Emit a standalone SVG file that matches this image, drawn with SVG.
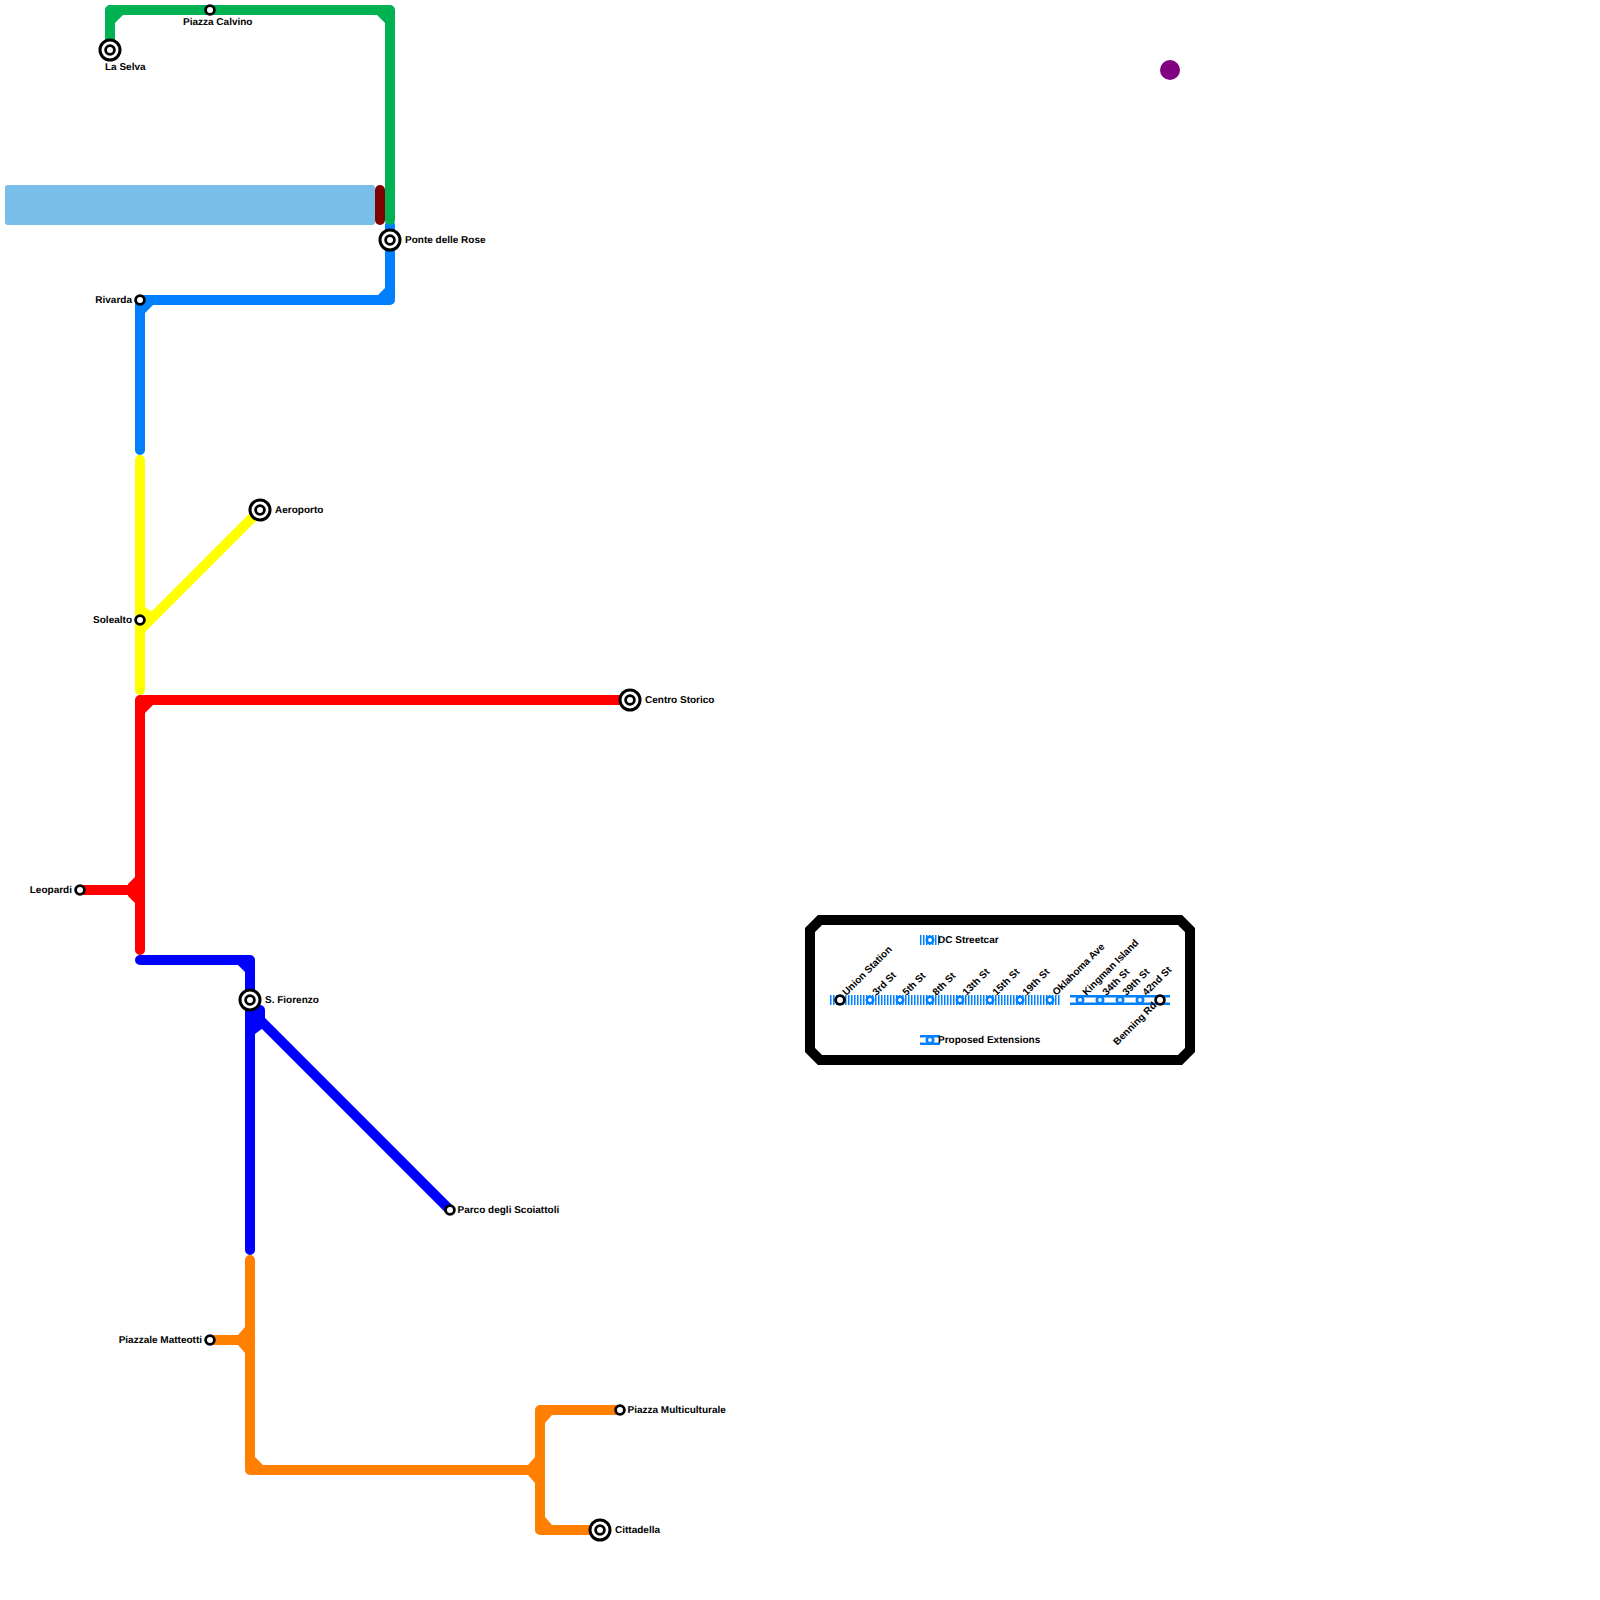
<svg xmlns="http://www.w3.org/2000/svg" width="1600" height="1600" viewBox="0 0 1600 1600">
<style>
.l{fill:none;stroke-width:10;stroke-linecap:round;stroke-linejoin:round}
.green{stroke:#00b251}.gf{fill:#00b251}
.blue{stroke:#0080ff}.bf{fill:#0080ff}
.yellow{stroke:#ffff00}.yf{fill:#ffff00}
.red{stroke:#ff0000}.rf{fill:#ff0000}
.navy{stroke:#0000ff}.nf{fill:#0000ff}
.orange{stroke:#ff8000}.of{fill:#ff8000}
.s{fill:#fff;stroke:#000;stroke-width:2.8}
.i{fill:#fff;stroke:#000;stroke-width:3}
.c{fill:#fff;stroke:#0080ff;stroke-width:2.6}
text{font-family:"Liberation Sans",Arial,sans-serif;font-size:10px;font-weight:700;fill:#000;text-rendering:geometricPrecision}
.e{text-anchor:end}
</style>
<g id="connectors">
<rect x="5" y="185" width="370" height="40" rx="3" fill="#79bde9"/>
<rect x="375" y="185" width="10" height="40" rx="5" fill="#800000"/>
<path class="l blue" d="M390 225V300H140V450"/>
<polygon class="bf" points="385,288 385,295 378,295"/><polygon class="bf" points="145,305 153,305 145,313"/>
<path class="l green" d="M110 50V10H390V220"/>
<polygon class="gf" points="115,15 123,15 115,23"/><polygon class="gf" points="377,15 385,15 385,23"/>
<path class="l yellow" d="M140 460V690M140 630L260 510"/>
<polygon class="yf" points="145,607 145,620 152,612"/>
<path class="l red" d="M630 700H140V950M80 890H140"/>
<polygon class="rf" points="145,705 153,705 145,713"/>
<polygon class="rf" points="135,877 128,884 128,896 135,903"/>
<path class="l navy" d="M140 960H250V1250M250 1010L450 1210M250 1010H260V1012"/>
<polygon class="nf" points="245,965 238,965 245,972"/>
<polygon class="nf" points="255,1015 255,1034 263,1028 265,1018 265,1010"/>
<path class="l orange" d="M250 1260V1470H540M210 1340H250M540 1410V1530H600M540 1410H620"/>
<polygon class="of" points="245,1327 238,1335 238,1345 245,1353"/>
<polygon class="of" points="255,1457 255,1465 263,1465"/>
<polygon class="of" points="535,1457 528,1465 528,1475 535,1483"/>
<polygon class="of" points="545,1415 552,1415 545,1423"/>
<polygon class="of" points="545,1517 552,1525 545,1525"/>
<path d="M830 1000H1060" fill="none" stroke="#0080ff" stroke-width="10" stroke-dasharray="1.5 1.5"/>
<path d="M1070 1000H1170" fill="none" stroke="#0080ff" stroke-width="10"/>
<path d="M1070 1000H1170" fill="none" stroke="#fff" stroke-width="5"/>
<path d="M920 940H939" fill="none" stroke="#0080ff" stroke-width="10" stroke-dasharray="1.5 1.5"/>
<path d="M920 1040H940" fill="none" stroke="#0080ff" stroke-width="10"/>
<path d="M920 1040H940" fill="none" stroke="#fff" stroke-width="5"/>
</g>
<g id="legend-frame"><polygon points="820,920 1180,920 1190,930 1190,1050 1180,1060 820,1060 810,1050 810,930" fill="none" stroke="#000" stroke-width="10"/></g>
<g id="purple-dot"><circle cx="1170" cy="70" r="10" fill="#800080"/></g>
<g id="la-selva"><circle class="i" cx="110" cy="50" r="10"/><circle class="s" cx="110" cy="50" r="4.4"/><text x="105" y="70">La Selva</text></g>
<g id="piazza-calvino"><circle class="s" cx="210" cy="10" r="4.4"/><text x="183" y="25">Piazza Calvino</text></g>
<g id="ponte-delle-rose"><circle class="i" cx="390" cy="240" r="10"/><circle class="s" cx="390" cy="240" r="4.4"/><text x="405" y="242.5">Ponte delle Rose</text></g>
<g id="rivarda"><circle class="s" cx="140" cy="300" r="4.4"/><text class="e" x="132" y="302.5">Rivarda</text></g>
<g id="aeroporto"><circle class="i" cx="260" cy="510" r="10"/><circle class="s" cx="260" cy="510" r="4.4"/><text x="275" y="512.5">Aeroporto</text></g>
<g id="solealto"><circle class="s" cx="140" cy="620" r="4.4"/><text class="e" x="132" y="622.5">Solealto</text></g>
<g id="centro-storico"><circle class="i" cx="630" cy="700" r="10"/><circle class="s" cx="630" cy="700" r="4.4"/><text x="645" y="702.5">Centro Storico</text></g>
<g id="leopardi"><circle class="s" cx="80" cy="890" r="4.4"/><text class="e" x="72" y="892.5">Leopardi</text></g>
<g id="s-fiorenzo"><circle class="i" cx="250" cy="1000" r="10"/><circle class="s" cx="250" cy="1000" r="4.4"/><text x="265" y="1002.5">S. Fiorenzo</text></g>
<g id="parco"><circle class="s" cx="450" cy="1210" r="4.4"/><text x="457.5" y="1212.5">Parco degli Scoiattoli</text></g>
<g id="piazzale-matteotti"><circle class="s" cx="210" cy="1340" r="4.4"/><text class="e" x="202" y="1342.5">Piazzale Matteotti</text></g>
<g id="piazza-multiculturale"><circle class="s" cx="620" cy="1410" r="4.4"/><text x="627.5" y="1412.5">Piazza Multiculturale</text></g>
<g id="cittadella"><circle class="i" cx="600" cy="1530" r="10"/><circle class="s" cx="600" cy="1530" r="4.4"/><text x="615" y="1532.5">Cittadella</text></g>
<g id="union-station"><circle class="s" cx="840" cy="1000" r="4.4"/><text transform="translate(846.5 996) rotate(-45)">Union Station</text></g>
<g id="st3"><circle class="c" cx="870" cy="1000" r="3.2"/><text transform="translate(876.5 996) rotate(-45)">3rd St</text></g>
<g id="st5"><circle class="c" cx="900" cy="1000" r="3.2"/><text transform="translate(906.5 996) rotate(-45)">5th St</text></g>
<g id="st8"><circle class="c" cx="930" cy="1000" r="3.2"/><text transform="translate(936.5 996) rotate(-45)">8th St</text></g>
<g id="st13"><circle class="c" cx="960" cy="1000" r="3.2"/><text transform="translate(966.5 996) rotate(-45)">13th St</text></g>
<g id="st15"><circle class="c" cx="990" cy="1000" r="3.2"/><text transform="translate(996.5 996) rotate(-45)">15th St</text></g>
<g id="st19"><circle class="c" cx="1020" cy="1000" r="3.2"/><text transform="translate(1026.5 996) rotate(-45)">19th St</text></g>
<g id="oklahoma"><circle class="c" cx="1050" cy="1000" r="3.2"/><text transform="translate(1056.5 996) rotate(-45)">Oklahoma Ave</text></g>
<g id="kingman"><circle class="c" cx="1080" cy="1000" r="3.2"/><text transform="translate(1086.5 996) rotate(-45)">Kingman Island</text></g>
<g id="st34"><circle class="c" cx="1100" cy="1000" r="3.2"/><text transform="translate(1106.5 996) rotate(-45)">34th St</text></g>
<g id="st39"><circle class="c" cx="1120" cy="1000" r="3.2"/><text transform="translate(1126.5 996) rotate(-45)">39th St</text></g>
<g id="st42"><circle class="c" cx="1140" cy="1000" r="3.2"/><text transform="translate(1146.5 996) rotate(-45)">42nd St</text></g>
<g id="benning"><circle class="s" cx="1160" cy="1000" r="4.4"/><text class="e" transform="translate(1157 1006) rotate(-45)">Benning Rd</text></g>
<g id="legend-streetcar"><circle class="c" cx="930" cy="940" r="3.2"/><text x="938" y="942.5">DC Streetcar</text></g>
<g id="legend-proposed"><circle class="c" cx="930" cy="1040" r="3.2"/><text x="938" y="1042.5">Proposed Extensions</text></g>
</svg>
